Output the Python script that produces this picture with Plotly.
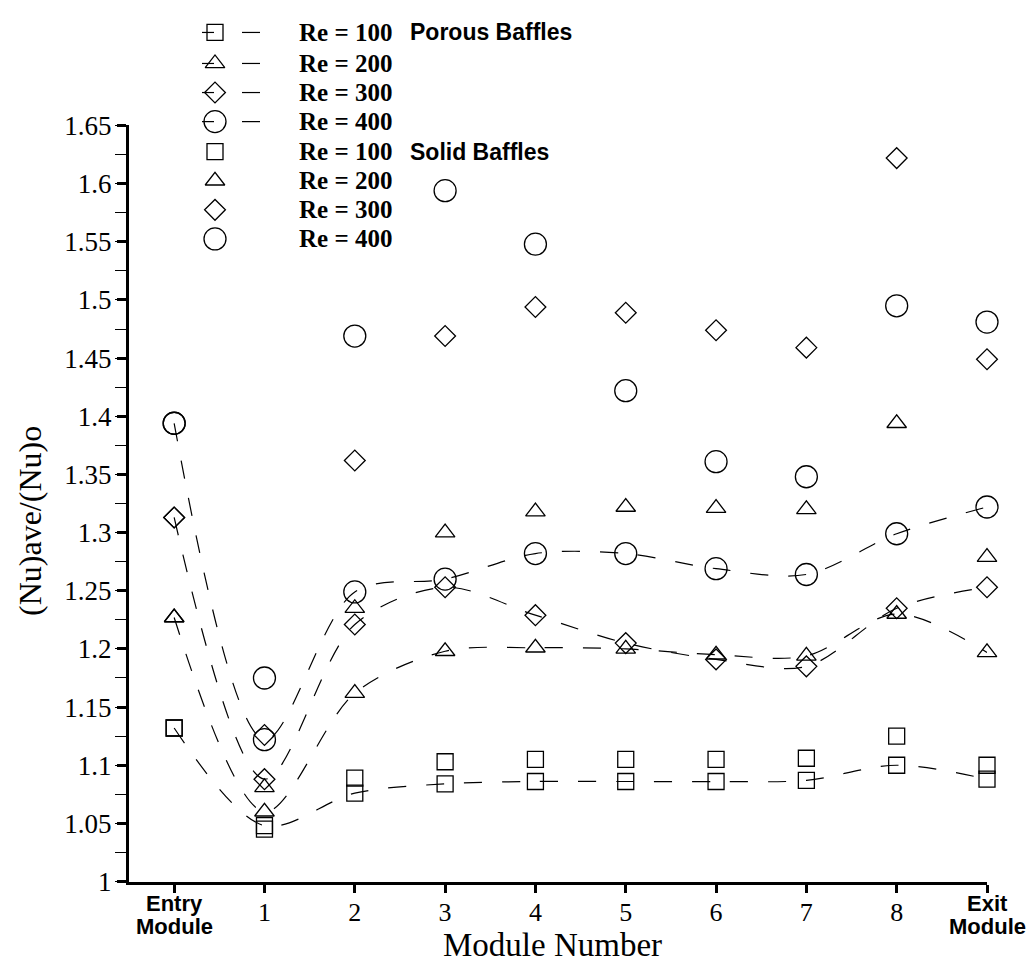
import plotly.graph_objects as go

W, H = 1031, 977

# ---------------- data ----------------
modules = [0, 1, 2, 3, 4, 5, 6, 7, 8, 9]
x_tick_text = ["", "1", "2", "3", "4", "5", "6", "7", "8", ""]
y_ticks = [1.0, 1.05, 1.1, 1.15, 1.2, 1.25, 1.3, 1.35, 1.4, 1.45, 1.5, 1.55, 1.6, 1.65]
y_tick_text = ["1", "1.05", "1.1", "1.15", "1.2", "1.25", "1.3", "1.35", "1.4",
               "1.45", "1.5", "1.55", "1.6", "1.65"]

reynolds = ["Re = 100", "Re = 200", "Re = 300", "Re = 400"]

porous_re100 = [1.132, 1.048, 1.076, 1.084, 1.086, 1.086, 1.086, 1.087, 1.100, 1.088]
porous_re200 = [1.227, 1.060, 1.162, 1.198, 1.201, 1.200, 1.195, 1.194, 1.230, 1.197]
porous_re300 = [1.313, 1.088, 1.221, 1.253, 1.229, 1.205, 1.191, 1.185, 1.235, 1.253]
porous_re400 = [1.394, 1.122, 1.249, 1.260, 1.282, 1.282, 1.269, 1.264, 1.299, 1.322]

solid_re100 = [1.132, 1.045, 1.089, 1.103, 1.105, 1.105, 1.105, 1.106, 1.125, 1.100]
solid_re200 = [1.227, 1.081, 1.235, 1.300, 1.318, 1.322, 1.321, 1.320, 1.394, 1.279]
solid_re300 = [1.313, 1.126, 1.362, 1.469, 1.494, 1.489, 1.474, 1.459, 1.622, 1.449]
solid_re400 = [1.394, 1.175, 1.469, 1.594, 1.548, 1.422, 1.361, 1.348, 1.495, 1.481]

porous = [porous_re100, porous_re200, porous_re300, porous_re400]
solid = [solid_re100, solid_re200, solid_re300, solid_re400]

# ---------------- styles ----------------
symbols = ["square-open", "triangle-up-open", "diamond-open", "circle-open"]
sizes = [16, 17, 16, 22]
DASH = "18px,20px"
serif = "Liberation Serif"
sans = "Liberation Sans"

fig = go.Figure()

for vals, sym, sz, name in zip(porous, symbols, sizes, reynolds):
    fig.add_trace(go.Scatter(
        x=modules, y=vals, mode="lines+markers", name=name + " porous",
        line=dict(color="black", width=1.2, dash=DASH, shape="spline", smoothing=0.9),
        marker=dict(symbol=sym, size=sz, color="black", line=dict(width=1.3, color="black")),
        cliponaxis=False,
    ))

for vals, sym, sz, name in zip(solid, symbols, sizes, reynolds):
    fig.add_trace(go.Scatter(
        x=modules, y=vals, mode="markers", name=name + " solid",
        marker=dict(symbol=sym, size=sz, color="black", line=dict(width=1.3, color="black")),
        cliponaxis=False,
    ))

# ---------------- legend (pixel-coordinate helper axes) ----------------
row_y = [18, 50, 80, 110, 141, 171, 201, 231]
mk_x = 215
annotations = []
shapes = []
for i in range(8):
    k = i % 4
    fig.add_trace(go.Scatter(
        x=[mk_x], y=[row_y[i]], xaxis="x2", yaxis="y2", mode="markers",
        marker=dict(symbol=symbols[k], size=sizes[k], color="black", line=dict(width=1.3, color="black")),
        showlegend=False, hoverinfo="skip", cliponaxis=False,
    ))
    if i < 4:
        for x0, x1 in [(202, 214), (242, 260)]:
            shapes.append(dict(type="line", xref="x2", yref="y2", x0=x0, x1=x1,
                               y0=row_y[i], y1=row_y[i], line=dict(color="black", width=1.2)))
    annotations.append(dict(xref="x2", yref="y2", x=297, y=row_y[i], xanchor="left", yanchor="middle",
                            text="<b>" + reynolds[k] + "</b>", showarrow=False,
                            font=dict(family=serif, size=25, color="black")))
annotations.append(dict(xref="x2", yref="y2", x=408, y=row_y[0], xanchor="left", yanchor="middle",
                        text="<b>Porous Baffles</b>", showarrow=False,
                        font=dict(family=sans, size=23, color="black")))
annotations.append(dict(xref="x2", yref="y2", x=408, y=row_y[4], xanchor="left", yanchor="middle",
                        text="<b>Solid Baffles</b>", showarrow=False,
                        font=dict(family=sans, size=23, color="black")))

# Entry / Exit two-line tick labels
for xv, word in [(modules[0], "Entry"), (modules[-1], "Exit")]:
    annotations.append(dict(xref="x", yref="y2", x=xv, y=917, text="<b>" + word + "</b>",
                            showarrow=False, xanchor="center", yanchor="middle",
                            font=dict(family=sans, size=22, color="black")))
    annotations.append(dict(xref="x", yref="y2", x=xv, y=940, text="<b>Module</b>",
                            showarrow=False, xanchor="center", yanchor="middle",
                            font=dict(family=sans, size=22, color="black")))

# axis titles
annotations.append(dict(xref="x2", yref="y2", x=552, y=959, text="Module Number", showarrow=False,
                        xanchor="center", yanchor="middle", font=dict(family=serif, size=33, color="black")))
annotations.append(dict(xref="x2", yref="y2", x=30, y=522, text="(Nu)ave/(Nu)o", showarrow=False,
                        textangle=-90, xanchor="center", yanchor="middle",
                        font=dict(family=serif, size=32, color="black")))

x_left, x_right = 129, 987
y_top, y_bot = 114, 894

fig.update_layout(
    width=W, height=H,
    margin=dict(l=0, r=0, t=0, b=0),
    paper_bgcolor="white", plot_bgcolor="rgba(0,0,0,0)",
    showlegend=False,
    xaxis=dict(domain=[x_left / W, x_right / W], range=[-0.5, 9], tickvals=modules, ticktext=x_tick_text,
               ticks="outside", ticklen=8, tickwidth=3, tickcolor="black", ticklabelstandoff=-3,
               showline=True, linewidth=3, linecolor="black", showgrid=False, zeroline=False,
               tickfont=dict(family=serif, size=26, color="black"), anchor="y"),
    yaxis=dict(domain=[1 - y_bot / H, 1 - y_top / H], range=[1, 1.65], tickvals=y_ticks, ticktext=y_tick_text,
               ticks="outside", ticklen=9, tickwidth=3, tickcolor="black",
               minor=dict(dtick=0.025, tick0=1.0, ticks="outside", ticklen=11, tickwidth=1, tickcolor="black"),
               showline=True, linewidth=3, linecolor="black", showgrid=False, zeroline=False,
               tickfont=dict(family=serif, size=27, color="black"), anchor="x"),
    xaxis2=dict(domain=[0, 1], range=[0, W], visible=False, anchor="y2"),
    yaxis2=dict(domain=[0, 1], range=[H, 0], visible=False, anchor="x2"),
    annotations=annotations,
    shapes=shapes,
)

fig.write_html("out.html")
